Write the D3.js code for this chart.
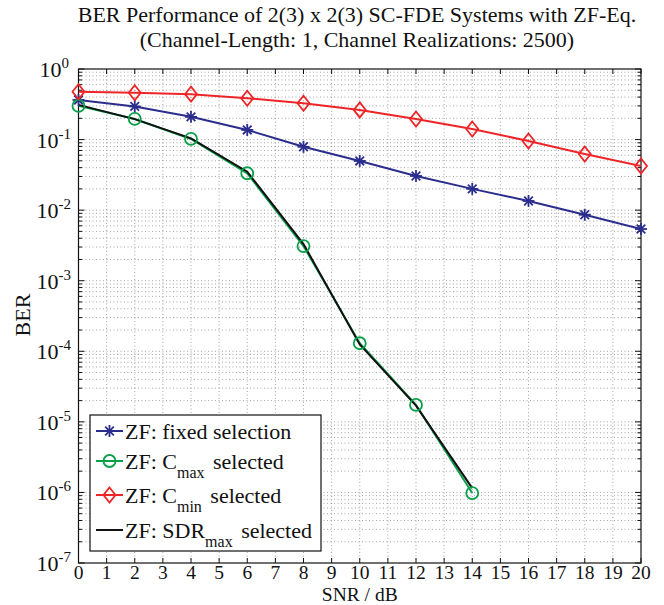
<!DOCTYPE html>
<html><head><meta charset="utf-8">
<script src="https://cdn.jsdelivr.net/npm/d3@7"></script>
<style>body{margin:0;background:#fff}svg{display:block}text{font-family:"Liberation Serif","DejaVu Serif",serif;fill:#111}</style>
</head><body>
<script>
const snr = [0,2,4,6,8,10,12,14,16,18,20];
const berFixed = [0.364,0.295,0.21,0.137,0.079,0.0498,0.0305,0.020,0.0135,0.0086,0.0054];
const berCmin = [0.477,0.46,0.44,0.385,0.327,0.263,0.196,0.141,0.0955,0.0625,0.0423];
const snrCmax = [0,2,4,6,8,10,12,14];
const berCmax = [0.30,0.196,0.102,0.0333,0.0031,1.30e-4,1.74e-5,9.8e-7];
const berSdr = [0.31,0.195,0.104,0.035,0.0033,1.25e-4,1.7e-5,1.15e-6];
const xTickLabels = d3.range(0,21);
const yTickExps = [0,-1,-2,-3,-4,-5,-6,-7];
const titleLines = ["BER Performance of 2(3) x 2(3) SC-FDE Systems with ZF-Eq.","(Channel-Length: 1, Channel Realizations: 2500)"];

const W=664,H=605;
const L=78.5,R=641,T=69,B=563;
const svg=d3.select("body").append("svg").attr("width",W).attr("height",H);
const x=d3.scaleLinear().domain([0,20]).range([L,R]);
const y=d3.scaleLog().domain([1e-7,1]).range([B,T]);
const fs=22;

// grid
const g=svg.append("g");
xTickLabels.forEach(v=>{ if(v>0&&v<20) g.append("line").attr("x1",x(v)).attr("x2",x(v)).attr("y1",T).attr("y2",B)
  .attr("stroke","#666").attr("stroke-width",0.6).attr("stroke-dasharray","1,2.5");});
const minor=[];
yTickExps.forEach(e=>{ if(e<0) for(let m=1;m<10;m++){ minor.push({v:m*Math.pow(10,e),major:m===1}); } });
minor.forEach(d=>{ if(d.v<1 && d.v>1e-7) g.append("line").attr("x1",L).attr("x2",R).attr("y1",y(d.v)).attr("y2",y(d.v))
  .attr("stroke","#666").attr("stroke-width",0.6).attr("stroke-dasharray","1,2.5");});

// ticks
const tk=svg.append("g").attr("stroke","#111").attr("stroke-width",1);
xTickLabels.forEach(v=>{
  tk.append("line").attr("x1",x(v)).attr("x2",x(v)).attr("y1",B).attr("y2",B-5);
  tk.append("line").attr("x1",x(v)).attr("x2",x(v)).attr("y1",T).attr("y2",T+5);
});
minor.concat([{v:1,major:true}]).forEach(d=>{
  const len=d.major?6:3.5;
  tk.append("line").attr("x1",L).attr("x2",L+len).attr("y1",y(d.v)).attr("y2",y(d.v));
  tk.append("line").attr("x1",R).attr("x2",R-len).attr("y1",y(d.v)).attr("y2",y(d.v));
});
svg.append("rect").attr("x",L).attr("y",T).attr("width",R-L).attr("height",B-T).attr("fill","none").attr("stroke","#111").attr("stroke-width",1.2);

// tick labels
xTickLabels.forEach(v=>{
  svg.append("text").attr("x",x(v)).attr("y",578.8).attr("text-anchor","middle").attr("font-size",19.5).text(v);
});
yTickExps.forEach(e=>{
  const t=svg.append("text").attr("y",y(Math.pow(10,e))+8).attr("font-size",fs);
  t.append("tspan").text("10");
  t.append("tspan").attr("dy",-9).attr("font-size",15).text(e===0?"0":"-"+(-e));
  const w=t.node().getComputedTextLength();
  t.attr("x",(e===0?69:71)-w);
});

// axis labels and title
svg.append("text").attr("x",(L+R)/2).attr("y",600.6).attr("text-anchor","middle").attr("font-size",19.5).text("SNR / dB");
svg.append("text").attr("transform","translate(30,315) rotate(-90)").attr("text-anchor","middle").attr("font-size",fs).text("BER");
titleLines.forEach((s,i)=>svg.append("text").attr("x",357).attr("y",22+i*25).attr("text-anchor","middle").attr("font-size",fs).text(s));

// series
const clip=svg.append("clipPath").attr("id","c").append("rect").attr("x",L).attr("y",T).attr("width",R-L).attr("height",B-T);
const line=d3.line().x(d=>x(d[0])).y(d=>y(d[1]));
const series=[
  {xs:snr,ys:berFixed,color:"#2a2d8c",marker:"star"},
  {xs:snrCmax,ys:berCmax,color:"#0aa04a",marker:"circle"},
  {xs:snr,ys:berCmin,color:"#ee2528",marker:"diamond"},
  {xs:snrCmax,ys:berSdr,color:"#111",marker:null}
];
function drawMarker(sel,type,cx,cy,color){
  if(type==="circle") sel.append("circle").attr("cx",cx).attr("cy",cy).attr("r",6).attr("fill","none").attr("stroke",color).attr("stroke-width",1.8);
  else if(type==="diamond") sel.append("path").attr("d",`M${cx},${cy-7.5}L${cx+6},${cy}L${cx},${cy+7.5}L${cx-6},${cy}Z`).attr("fill","none").attr("stroke",color).attr("stroke-width",1.8);
  else if(type==="star"){
    const r=6;
    const p=[[0,-r,0,r],[-r,0,r,0],[-r*0.72,-r*0.72,r*0.72,r*0.72],[-r*0.72,r*0.72,r*0.72,-r*0.72]];
    p.forEach(a=>sel.append("line").attr("x1",cx+a[0]).attr("y1",cy+a[1]).attr("x2",cx+a[2]).attr("y2",cy+a[3]).attr("stroke",color).attr("stroke-width",1.8));
  }
}
const sg=svg.append("g").attr("clip-path","url(#c)");
series.forEach(s=>{
  const pts=s.xs.map((v,i)=>[v,s.ys[i]]);
  sg.append("path").datum(pts).attr("d",line).attr("fill","none").attr("stroke",s.color).attr("stroke-width",2);
});
const mg=svg.append("g");
series.forEach(s=>{ if(s.marker) s.xs.forEach((v,i)=>drawMarker(mg,s.marker,x(v),y(s.ys[i]),s.color)); });

// legend
const lg=svg.append("g");
lg.append("rect").attr("x",90).attr("y",415).attr("width",231).attr("height",136).attr("fill","#fff").attr("stroke","#111").attr("stroke-width",1.2);
const legendItems=[
  {main:"ZF: fixed selection"},
  {main:"ZF: C",sub:"max",rest:" selected"},
  {main:"ZF: C",sub:"min",rest:" selected"},
  {main:"ZF: SDR",sub:"max",rest:" selected"}
];
const rowY=[431,461,495,530];
legendItems.forEach((it,i)=>{
  const s=series[i], yy=rowY[i];
  lg.append("line").attr("x1",96).attr("x2",123).attr("y1",yy).attr("y2",yy).attr("stroke",s.color).attr("stroke-width",2);
  if(s.marker) drawMarker(lg,s.marker,109.5,yy,s.color);
  const t=lg.append("text").attr("x",125).attr("y",yy+8).attr("font-size",fs);
  t.append("tspan").text(it.main);
  if(it.sub){
    t.append("tspan").attr("dy",9).attr("font-size",16).text(it.sub);
    t.append("tspan").attr("dy",-9).attr("dx",3).text(it.rest);
  }
});
</script>
</body></html>
